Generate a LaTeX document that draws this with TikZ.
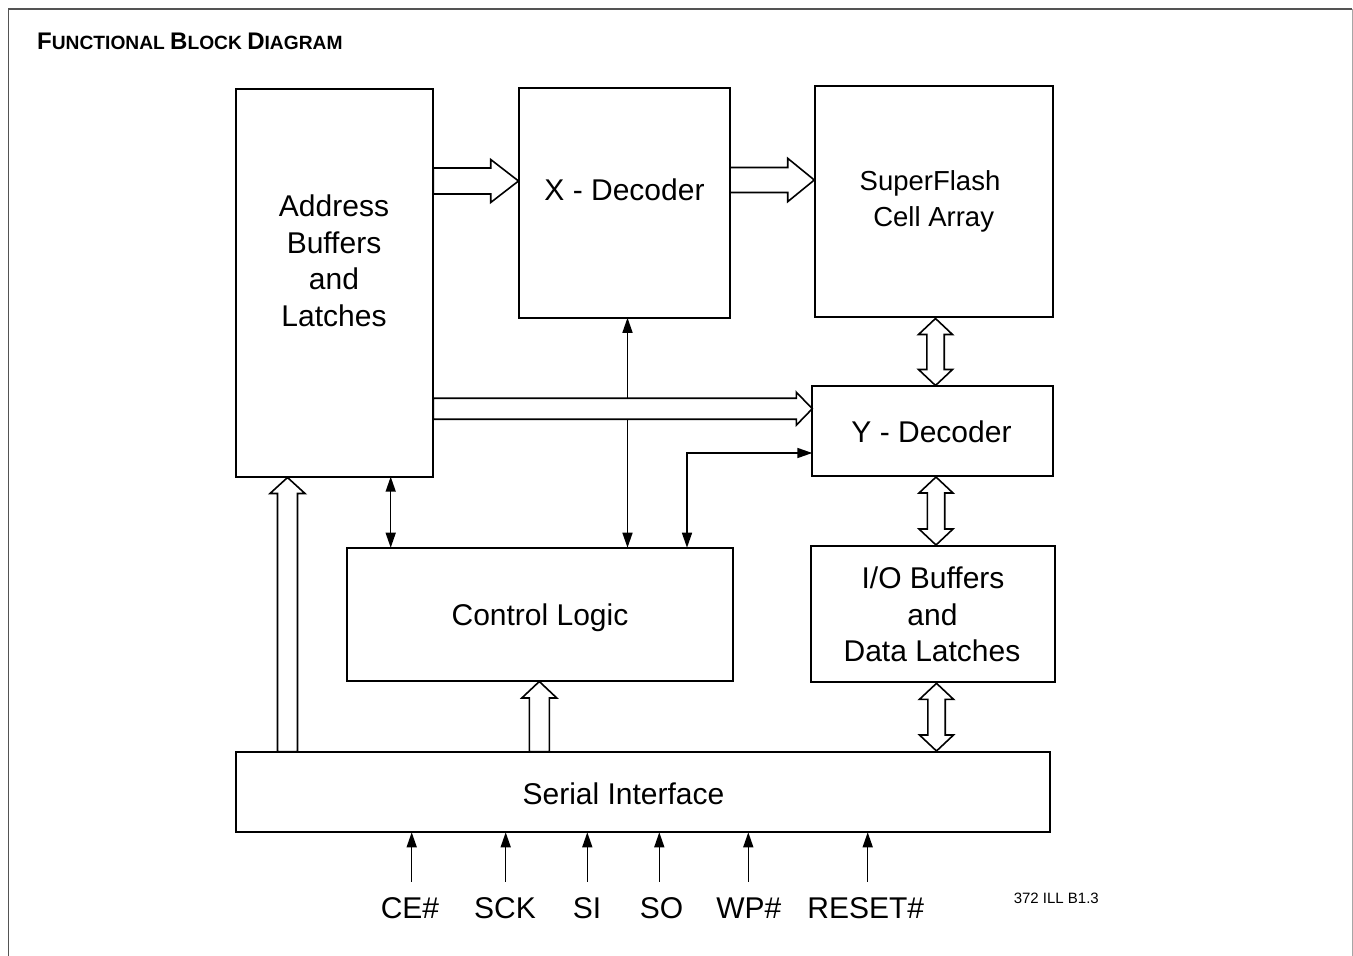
\documentclass[tikz,border=0pt]{standalone}
\usepackage{fontspec}
\setmainfont{Liberation Sans}
\usetikzlibrary{arrows.meta}
\newcommand\myfs[1]{\fontsize{#1}{#1}\selectfont}
% horizontal wide arrow: x0, x1(tip), yc, shaft half, head half, head length
\newcommand\busH[6]{\path[bus] (#1,{#3-#4}) -- ({#2-#6},{#3-#4}) -- ({#2-#6},{#3-#5}) -- (#2,#3) -- ({#2-#6},{#3+#5}) -- ({#2-#6},{#3+#4}) -- (#1,{#3+#4}) -- cycle;}
% upward wide arrow: xc, ytip, ybottom, shaft half, head half, head length
\newcommand\busU[6]{\path[bus] (#1,#2) -- ({#1+#5},{#2+#6}) -- ({#1+#4},{#2+#6}) -- ({#1+#4},#3) -- ({#1-#4},#3) -- ({#1-#4},{#2+#6}) -- ({#1-#5},{#2+#6}) -- cycle;}
% double vertical wide arrow: xc, ytop, ybottom, shaft half, head half, head length
\newcommand\busD[6]{\path[bus] (#1,#2) -- ({#1+#5},{#2+#6}) -- ({#1+#4},{#2+#6}) -- ({#1+#4},{#3-#6}) -- ({#1+#5},{#3-#6}) -- (#1,#3) -- ({#1-#5},{#3-#6}) -- ({#1-#4},{#3-#6}) -- ({#1-#4},{#2+#6}) -- ({#1-#5},{#2+#6}) -- cycle;}
\begin{document}
\begin{tikzpicture}[x=1pt,y=-1pt,
  box/.style={draw=black, line width=1.8pt, inner sep=0pt, outer sep=0pt},
  lbl/.style={anchor=base, inner sep=0pt, font=\myfs{30}},
  sig/.style={line width=1.5pt, -{Triangle[length=15pt,width=10pt]}},
  sigb/.style={line width=1.5pt, {Triangle[length=15pt,width=10pt]}-{Triangle[length=15pt,width=10pt]}},
  bus/.style={draw=black, fill=white, line width=1.6pt, miter limit=20},
  frame/.style={draw=black!67, line width=1.6pt}
]
\useasboundingbox (0,0) rectangle (1353,956);
\fill[white] (0,0) rectangle (1353,956);
% outer frame
\draw[frame] (8.5,956) -- (8.5,9) -- (1352,9);
\draw[black!35, line width=1pt] (1352,9) -- (1352,956);
% title
\node[anchor=base west, inner sep=0pt] (title) at (37,49)
  {\bfseries\myfs{24}F\myfs{19.2}UNCTIONAL \myfs{24}B\myfs{19.2}LOCK \myfs{24}D\myfs{19.2}IAGRAM};
% blocks
\node[box, minimum width=197.3pt, minimum height=387.4pt] (addr) at (334.7,283) {};
\node[box, minimum width=210.7pt, minimum height=229.7pt] (xdec) at (624.7,202.9) {};
\node[box, minimum width=238.3pt, minimum height=231.6pt] (sfa) at (934.2,201.5) {};
\node[box, minimum width=241pt, minimum height=89.7pt] (ydec) at (932.8,430.9) {};
\node[box, minimum width=386pt, minimum height=133pt] (ctrl) at (539.7,614.2) {};
\node[box, minimum width=244.3pt, minimum height=136.3pt] (io) at (932.9,614.2) {};
\node[box, minimum width=814pt, minimum height=80.6pt] (serial) at (643,792) {};
% texts
\node[lbl] (tAddrA) at (334,216.7) {Address};
\node[lbl] (tAddrB) at (334,253.3) {Buffers};
\node[lbl] (tAddrC) at (334,289.5) {and};
\node[lbl] (tAddrD) at (334,326.5) {Latches};
\node[lbl] (tX) at (624.5,200) {X - Decoder};
\node[lbl, font=\myfs{27.5}] (tSA) at (930,190) {SuperFlash};
\node[lbl, font=\myfs{27.5}] (tSB) at (933.7,226.7) {Cell Array};
\node[lbl] (tY) at (931.5,442) {Y - Decoder};
\node[lbl] (tCtrl) at (540,625) {Control Logic};
\node[lbl] (tIOA) at (933,588.3) {I/O Buffers};
\node[lbl] (tIOB) at (932.5,625) {and};
\node[lbl] (tIOC) at (932,661.7) {Data Latches};
\node[lbl] (tSer) at (623.5,804) {Serial Interface};
\node[lbl] (tCE) at (410,918.3) {CE\#};
\node[lbl] (tSCK) at (505,918.3) {SCK};
\node[lbl] (tSI) at (587,918.3) {SI};
\node[lbl] (tSO) at (661.5,918.3) {SO};
\node[lbl] (tWP) at (748.9,918.3) {WP\#};
\node[lbl] (tRST) at (865.8,918.3) {RESET\#};
\node[lbl, font=\myfs{15}] (ill) at (1056.3,903.3) {372 ILL B1.3};
% thin connectors
\coordinate (cA) at (390.7,0);
\coordinate (cB) at (627.5,0);
\coordinate (cC) at (687,453);
\draw[sigb] (addr.south -| cA) -- (ctrl.north -| cA);
\draw[sigb] (xdec.south -| cB) -- (ctrl.north -| cB);
\draw[sigb] (ctrl.north -| cC) |- (ydec.west |- cC);
% wide buses
\busH{433.3}{518.5}{181}{13}{21.5}{27.8}
\busH{730}{814.3}{180}{12.5}{21.7}{26.6}
\busH{433.3}{812.3}{408.7}{10.5}{16.5}{16}
\busU{287.5}{477.5}{751.7}{10}{17.5}{16}
\busU{539.3}{681.5}{751.7}{10}{17.5}{16.5}
\busD{935.5}{318.5}{385.5}{8.7}{17}{16}
\busD{936}{477}{545}{8.7}{17}{16}
\busD{936.5}{683.3}{751}{8.7}{17}{16}
% input pins
\coordinate (pCE) at (411.7,881.7);
\coordinate (pSCK) at (505.7,881.7);
\coordinate (pSI) at (587.3,881.7);
\coordinate (pSO) at (659.3,881.7);
\coordinate (pWP) at (748.3,881.7);
\coordinate (pRST) at (867.7,881.7);
\foreach \p in {pCE,pSCK,pSI,pSO,pWP,pRST}
  \draw[sig] (\p) -- (serial.south -| \p);
\end{tikzpicture}
\end{document}
